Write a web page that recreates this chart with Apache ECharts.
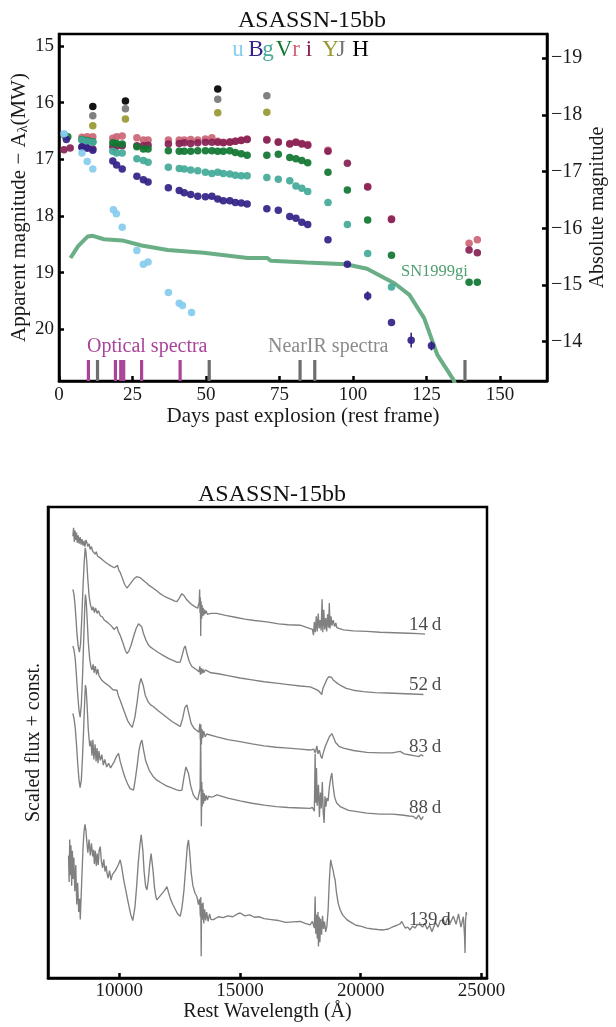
<!DOCTYPE html>
<html>
<head>
<meta charset="utf-8">
<script src="https://cdn.jsdelivr.net/npm/echarts@6/dist/echarts.min.js"></script>
<style>
html,body{margin:0;padding:0;background:#fff;}
#chart{width:616px;height:1027px;}
</style>
</head>
<body>
<div id="chart"></div>
<script>
// ---------------- Light curve data (days past explosion, apparent mag) ----------------
const uDays = [1.7, 7.8, 9.6, 11.5, 18.5, 19.5, 21.5, 26.5, 28.7, 30.3, 37.2, 40.9, 42.0, 45.1];
const uMags = [16.55, 16.89, 17.04, 17.17, 17.89, 17.96, 18.20, 18.61, 18.85, 18.81, 19.35, 19.54, 19.58, 19.70];

const BDays = [2.5, 7.8, 9.6, 11.5, 18.3, 19.6, 21.5, 26.5, 28.7, 30.3, 37.2, 40.9, 42.6, 44.8, 47.2, 49.8, 52, 54, 55.9, 58.1, 60, 62, 64, 70.7, 74.6, 78.5, 80.6, 82.6, 84.6, 91.5, 98.1, 105, 113.1, 119.8, 126.7];
const BMags = [16.65, 16.78, 16.80, 16.84, 17.03, 17.10, 17.17, 17.30, 17.36, 17.40, 17.50, 17.55, 17.59, 17.62, 17.65, 17.66, 17.65, 17.70, 17.73, 17.73, 17.76, 17.77, 17.79, 17.87, 17.90, 18.01, 18.04, 18.11, 18.15, 18.42, 18.85, 19.41, 19.88, 20.19, 20.29];

const gDays = [2, 7.8, 9.6, 11.5, 18.3, 19.6, 21.5, 26.5, 28.7, 30.3, 37.2, 40.9, 42.6, 44.8, 47.2, 49.8, 52, 54, 55.9, 58.1, 60, 62, 64, 70.7, 74.6, 78.5, 80.6, 82.6, 84.6, 91.5, 98.1, 105, 113.1];
const gMags = [16.58, 16.66, 16.68, 16.70, 16.86, 16.89, 16.89, 16.99, 17.02, 17.05, 17.14, 17.16, 17.17, 17.19, 17.20, 17.23, 17.25, 17.23, 17.25, 17.26, 17.28, 17.29, 17.29, 17.32, 17.35, 17.38, 17.47, 17.51, 17.57, 17.76, 18.15, 18.66, 19.25];

const VDays = [3, 7.8, 9.6, 11.5, 18.3, 19.6, 21.5, 26.5, 28.7, 30.3, 37.2, 40.9, 42.6, 44.8, 47.2, 49.8, 52, 54, 55.9, 58.1, 60, 62, 64, 70.7, 74.6, 78.5, 80.6, 82.6, 84.6, 91.5, 98.1, 105, 113.1, 139.5, 142.3];
const VMags = [16.60, 16.65, 16.67, 16.69, 16.71, 16.72, 16.73, 16.78, 16.82, 16.82, 16.85, 16.86, 16.86, 16.86, 16.85, 16.85, 16.85, 16.86, 16.86, 16.85, 16.88, 16.90, 16.93, 16.93, 16.91, 16.97, 16.99, 17.02, 17.06, 17.23, 17.54, 18.07, 18.69, 19.17, 19.17];

const rDays = [2, 7.8, 9.6, 11.5, 18.3, 19.6, 21.5, 26.5, 28.7, 30.3, 37.2, 40.9, 42.6, 44.8, 47.2, 49.8, 52, 54, 55.9, 58.1, 60, 62, 64, 70.7, 74.6, 78.5, 80.6, 82.6, 84.6, 91.5, 105, 113.1, 139.5, 142.3];
const rMags = [16.58, 16.61, 16.60, 16.60, 16.63, 16.60, 16.59, 16.62, 16.66, 16.66, 16.66, 16.66, 16.66, 16.65, 16.66, 16.64, 16.62, 16.68, 16.70, 16.69, 16.68, 16.66, 16.64, 16.65, 16.69, 16.72, 16.70, 16.72, 16.74, 16.84, 17.48, 18.05, 18.48, 18.42];

const iDays = [1.7, 3.8, 7.8, 9.6, 11.5, 18.3, 19.6, 21.5, 26.5, 28.7, 30.3, 37.2, 40.9, 42.6, 44.8, 47.2, 49.8, 52, 54, 55.9, 58.1, 60, 62, 64, 70.7, 74.6, 78.5, 80.6, 82.6, 84.6, 91.5, 98.1, 105, 113.1, 139.5, 142.3];
const iMags = [16.83, 16.80, 16.79, 16.80, 16.82, 16.78, 16.77, 16.76, 16.76, 16.76, 16.75, 16.73, 16.72, 16.71, 16.72, 16.71, 16.70, 16.70, 16.70, 16.71, 16.70, 16.68, 16.67, 16.65, 16.66, 16.70, 16.73, 16.70, 16.73, 16.75, 16.86, 17.07, 17.49, 18.06, 18.60, 18.65];

const YDays = [11.5, 22.6, 54, 70.7];
const YMags = [16.41, 16.29, 16.18, 16.17];
const JDays = [11.5, 22.6, 54, 70.7];
const JMags = [16.23, 16.11, 15.94, 15.88];
const HDays = [11.5, 22.6, 54];
const HMags = [16.07, 15.97, 15.76];

// error bars (day, mag, half-size)
const uErrDays = [45.1];
const uErrMags = [19.70];
const uErrSize = [0.06];
const BErrDays = [105, 119.8, 126.7];
const BErrMags = [19.41, 20.19, 20.29];
const BErrSize = [0.08, 0.13, 0.08];

// SN1999gi comparison curve
const sn99Days = [3.9, 6.5, 9.8, 11.5, 15.3, 21.5, 28.1, 37, 49.2, 64.2, 70.9, 72, 84.2, 97.6, 104.8, 114.2, 119.2, 124.2, 128.7, 134.2, 138];
const sn99Mags = [18.74, 18.53, 18.36, 18.35, 18.41, 18.43, 18.52, 18.60, 18.65, 18.74, 18.74, 18.79, 18.82, 18.85, 18.93, 19.19, 19.39, 19.80, 20.45, 20.89, 21.40];

// epochs of spectra
const opticalSpecDays = [10.0, 19.2, 21.0, 22.0, 28.1, 41.2];
const nirSpecDays = [13.1, 51.1, 82.0, 87.0, 138.1];

// axis ticks
const dayTicks = [0, 25, 50, 75, 100, 125, 150];
const appMagTicks = [15, 16, 17, 18, 19, 20];
const absMagTicks = [-19, -18, -17, -16, -15, -14];
const waveTicks = [10000, 15000, 20000, 25000];
const distMod = 34.217;

// ---------------- NIR spectra: [rest wavelength (Å), scaled flux + const.] ----------------
const spec14d = [[8080,93.8],[8110,95.6],[8140,92.6],[8170,95.0],[8200,93.0],[8230,94.6],[8260,92.4],[8300,94.0],[8340,92.2],[8380,93.6],[8420,92.0],[8460,93.2],[8500,91.8],[8540,92.8],[8580,91.6],[8620,93.0],[8663,92.4],[8700,91.6],[8750,92.2],[8800,91.0],[8850,91.6],[8900,90.6],[8950,91.0],[9000,90.0],[9050,90.5],[9100,89.6],[9150,90.0],[9214,89.2],[9280,89.5],[9350,88.6],[9420,88.9],[9500,88.0],[9580,88.3],[9650,87.5],[9720,87.8],[9800,87.1],[9870,87.5],[9930,87.6],[9980,86.6],[10050,86.0],[10130,84.9],[10220,83.6],[10319,82.8],[10400,83.3],[10500,84.0],[10620,84.8],[10720,85.2],[10800,85.6],[10870,85.0],[10950,84.6],[11050,84.2],[11146,83.8],[11250,83.3],[11400,82.8],[11550,82.2],[11697,81.6],[11850,81.1],[12000,80.7],[12150,80.4],[12300,80.0],[12388,79.9],[12480,80.6],[12595,81.6],[12680,81.2],[12800,80.3],[12950,79.5],[13050,79.1],[13146,78.8],[13250,78.5],[13310,79.8],[13330,82.5],[13345,77.5],[13360,80.8],[13375,72.6],[13390,80.0],[13410,76.2],[13430,79.2],[13450,76.8],[13475,78.6],[13500,77.0],[13530,78.2],[13560,77.3],[13600,78.0],[13650,77.2],[13700,77.6],[13800,77.4],[14044,77.4],[14400,77.0],[14800,76.6],[15200,76.2],[15600,75.9],[16113,75.6],[16600,75.2],[17000,75.0],[17490,74.9],[17906,74.2],[18000,74.0],[18043,72.8],[18080,75.6],[18120,73.4],[18160,76.8],[18200,73.6],[18240,77.4],[18280,74.2],[18320,76.0],[18360,73.8],[18400,80.4],[18430,73.4],[18470,78.2],[18510,74.0],[18550,76.4],[18590,73.6],[18630,77.2],[18670,74.4],[18700,79.6],[18730,74.2],[18770,76.8],[18810,74.8],[18860,76.0],[18920,74.6],[18970,75.4],[19010,74.4],[19284,73.9],[19700,73.7],[20250,73.6],[20800,73.4],[21400,73.3],[22000,73.2],[22400,73.1],[22665,73.0]];

const spec52d = [[8080,82.5],[8120,81.6],[8160,79.8],[8200,77.0],[8250,73.0],[8300,70.4],[8350,69.2],[8400,71.0],[8450,76.5],[8500,83.0],[8550,88.4],[8590,91.3],[8620,90.6],[8660,88.0],[8700,84.6],[8750,81.2],[8800,79.4],[8870,78.1],[8920,78.8],[8970,77.6],[9020,78.6],[9080,77.4],[9140,78.0],[9214,76.9],[9300,76.7],[9380,76.0],[9460,75.9],[9540,75.4],[9620,75.2],[9700,74.6],[9780,74.0],[9850,74.4],[9905,74.6],[9960,73.6],[10050,72.6],[10150,71.2],[10250,69.6],[10319,68.9],[10400,69.4],[10500,70.8],[10600,72.6],[10700,74.2],[10800,75.2],[10869,75.6],[10930,74.6],[11000,73.2],[11100,71.8],[11200,70.8],[11283,70.3],[11450,69.7],[11650,69.0],[11850,68.4],[12050,67.8],[12250,67.4],[12400,67.0],[12525,67.1],[12600,68.4],[12680,70.0],[12732,70.5],[12800,69.0],[12900,67.2],[13000,66.2],[13100,65.8],[13216,65.4],[13300,65.0],[13340,66.2],[13360,64.4],[13390,65.8],[13420,64.6],[13460,65.6],[13500,64.8],[13560,65.4],[13630,65.0],[13800,64.8],[14100,64.6],[14500,64.2],[15000,63.7],[15500,63.3],[16000,62.9],[16500,62.6],[17000,62.3],[17500,62.0],[17906,61.8],[18100,61.4],[18250,61.0],[18330,60.8],[18390,60.2],[18430,61.4],[18470,61.0],[18530,62.6],[18600,63.4],[18680,64.0],[18733,64.3],[18800,63.8],[18870,63.2],[18950,62.8],[19050,62.5],[19147,62.2],[19400,61.5],[19698,61.1],[20100,60.8],[20600,60.6],[21100,60.5],[21600,60.4],[22100,60.3],[22600,60.2]];

const spec83d = [[8080,70.5],[8130,69.6],[8180,67.6],[8230,64.0],[8280,60.2],[8330,57.0],[8380,55.4],[8430,58.0],[8480,64.0],[8530,72.0],[8570,78.5],[8600,81.4],[8630,80.2],[8670,76.4],[8720,71.2],[8780,67.6],[8830,66.0],[8870,65.4],[8920,66.6],[8960,64.8],[9010,66.2],[9060,64.4],[9110,65.6],[9160,64.2],[9214,64.0],[9280,63.2],[9350,63.6],[9420,62.6],[9500,62.8],[9580,62.0],[9660,62.2],[9740,61.2],[9820,60.8],[9905,61.1],[9960,60.0],[10050,58.8],[10150,57.4],[10250,56.0],[10350,54.6],[10450,53.8],[10540,53.2],[10592,53.4],[10650,55.4],[10740,58.6],[10830,62.2],[10900,63.6],[10940,64.0],[10990,62.2],[11080,60.0],[11200,58.6],[11300,58.0],[11420,57.6],[11600,56.8],[11800,56.0],[12000,55.2],[12200,54.4],[12400,53.8],[12525,53.4],[12620,55.0],[12720,57.4],[12802,58.0],[12880,56.2],[12980,54.0],[13100,53.0],[13200,52.6],[13300,52.2],[13340,54.0],[13360,50.6],[13380,53.8],[13400,49.6],[13430,52.8],[13460,51.0],[13500,52.4],[13560,51.2],[13620,51.8],[13700,51.4],[14044,51.2],[14500,50.6],[15000,50.2],[15500,49.7],[16000,49.3],[16500,49.0],[17000,48.8],[17500,48.6],[17906,48.4],[18050,48.6],[18120,47.8],[18183,49.3],[18230,47.6],[18290,48.4],[18340,47.2],[18390,46.6],[18450,47.8],[18520,49.0],[18600,50.0],[18700,51.2],[18804,51.9],[18880,51.0],[18960,50.0],[19100,49.2],[19284,48.8],[19700,48.3],[20252,47.9],[20800,47.8],[21300,47.8],[21631,48.1],[21800,47.6],[22000,47.4],[22200,47.2],[22400,47.0],[22500,47.4],[22595,47.1]];

const spec88d = [[8080,56.2],[8130,55.0],[8180,53.0],[8230,49.6],[8280,45.6],[8330,42.2],[8380,40.4],[8430,42.0],[8480,47.0],[8530,53.4],[8570,59.0],[8600,62.2],[8630,61.4],[8670,57.8],[8720,52.6],[8780,49.2],[8830,50.4],[8870,47.2],[8910,50.6],[8950,46.4],[9000,49.6],[9040,46.0],[9080,48.8],[9120,45.6],[9160,48.2],[9214,46.2],[9280,47.4],[9340,45.2],[9400,46.4],[9480,44.8],[9560,45.6],[9640,44.6],[9720,45.0],[9800,46.0],[9880,47.0],[9971,47.7],[10040,46.0],[10150,44.0],[10250,42.4],[10350,41.2],[10450,40.2],[10530,39.8],[10592,39.9],[10660,42.0],[10740,45.0],[10820,48.4],[10890,50.0],[10940,50.5],[11000,48.6],[11100,46.0],[11250,44.0],[11400,42.8],[11560,42.0],[11750,41.4],[11950,40.8],[12150,40.4],[12350,40.0],[12500,39.8],[12595,39.9],[12680,42.6],[12760,44.8],[12802,45.2],[12870,43.4],[12960,40.8],[13060,39.0],[13160,38.2],[13250,37.8],[13320,37.4],[13350,40.2],[13370,53.0],[13385,44.0],[13400,32.2],[13420,41.6],[13440,36.4],[13460,40.0],[13490,37.0],[13520,39.2],[13560,37.6],[13600,38.8],[13650,37.8],[13700,38.6],[13800,38.4],[13903,38.5],[14044,38.9],[14500,38.2],[15000,37.6],[15500,37.1],[16000,36.7],[16500,36.4],[17000,36.2],[17500,36.1],[17906,36.0],[18000,36.2],[18080,35.4],[18113,47.6],[18140,37.2],[18170,44.6],[18200,36.6],[18250,41.0],[18290,34.2],[18330,39.4],[18370,36.0],[18410,41.6],[18450,35.0],[18485,32.9],[18520,38.6],[18560,36.4],[18600,38.2],[18650,37.6],[18700,40.4],[18760,42.6],[18804,43.5],[18850,41.0],[18920,38.4],[19000,37.2],[19147,36.4],[19500,35.6],[20252,35.0],[20800,34.8],[21300,34.8],[21700,34.6],[22000,34.4],[22181,34.3],[22300,33.8],[22400,34.6],[22500,33.6],[22595,34.3]];

const spec139d = [[7900,26.0],[7925,20.4],[7950,29.4],[7975,21.8],[8000,28.2],[8030,19.6],[8060,27.0],[8090,21.0],[8120,25.6],[8160,18.4],[8200,24.0],[8240,15.6],[8280,20.2],[8320,14.0],[8360,16.8],[8386,12.4],[8420,17.0],[8460,22.4],[8500,27.6],[8540,31.0],[8580,32.6],[8620,31.4],[8660,28.8],[8700,26.6],[8750,29.4],[8800,26.0],[8850,28.6],[8900,25.8],[8936,27.2],[8970,24.2],[9010,27.0],[9050,23.8],[9090,26.4],[9130,24.0],[9170,27.2],[9214,27.9],[9260,24.8],[9310,23.4],[9360,25.2],[9410,22.6],[9460,23.8],[9491,22.3],[9540,21.2],[9600,22.8],[9660,20.8],[9720,22.0],[9780,21.6],[9840,22.8],[9900,23.4],[9960,24.0],[10041,25.1],[10100,23.6],[10180,21.0],[10280,18.4],[10380,15.8],[10480,13.4],[10560,12.2],[10592,12.4],[10650,15.0],[10720,19.4],[10790,24.6],[10860,28.4],[10910,30.4],[10940,30.0],[10980,27.0],[11030,22.6],[11090,19.6],[11146,18.7],[11200,20.6],[11260,24.0],[11320,26.4],[11353,26.5],[11400,22.8],[11460,19.2],[11520,17.2],[11560,16.6],[11640,17.0],[11720,17.6],[11800,18.0],[11880,18.6],[11974,19.4],[12040,18.2],[12120,16.8],[12220,15.6],[12320,14.6],[12420,13.6],[12525,13.1],[12600,15.0],[12680,18.6],[12760,24.0],[12820,28.0],[12868,29.3],[12920,26.6],[12980,22.4],[13050,19.6],[13140,18.0],[13216,17.3],[13280,15.6],[13330,16.8],[13360,13.0],[13380,17.2],[13394,4.6],[13410,15.8],[13440,12.4],[13470,16.0],[13500,11.6],[13540,14.6],[13580,12.2],[13620,14.0],[13680,12.0],[13740,13.6],[13800,12.4],[13903,12.4],[14100,13.0],[14300,12.8],[14500,13.2],[14700,13.0],[14900,13.6],[15008,13.8],[15200,13.2],[15400,13.4],[15600,12.9],[15800,13.0],[16000,12.6],[16300,12.4],[16600,12.2],[16900,11.8],[17200,11.9],[17492,12.0],[17700,11.6],[17906,11.3],[18000,12.0],[18043,12.4],[18080,10.6],[18113,17.3],[18140,9.4],[18170,13.4],[18200,8.4],[18230,14.0],[18250,6.7],[18280,13.0],[18310,7.6],[18340,12.6],[18380,9.2],[18420,13.2],[18460,10.4],[18500,12.0],[18550,9.8],[18597,10.9],[18650,14.4],[18700,20.6],[18740,24.0],[18760,25.1],[18790,24.2],[18820,23.6],[18860,22.8],[18900,21.6],[18940,20.8],[19000,18.0],[19070,15.8],[19147,14.5],[19250,13.4],[19424,12.4],[19600,11.8],[19800,11.2],[20000,11.0],[20252,10.6],[20500,10.4],[20700,10.3],[20939,10.2],[21150,10.4],[21350,10.9],[21500,11.2],[21631,11.5],[21701,12.0],[21780,11.2],[21850,10.6],[21950,10.8],[22045,10.2],[22150,11.0],[22250,10.6],[22350,11.4],[22459,11.3],[22560,10.8],[22650,11.6],[22750,10.4],[22850,11.2],[22950,9.8],[23009,10.6],[23100,11.8],[23200,10.8],[23300,12.2],[23423,12.4],[23500,11.2],[23600,12.8],[23700,11.6],[23837,13.1],[23950,11.4],[24050,13.6],[24150,10.8],[24250,13.0],[24300,9.0],[24321,5.3],[24340,12.0],[24370,14.0],[24391,13.4]];

const specLabels = ['14\u2009d', '52\u2009d', '83\u2009d', '88\u2009d', '139\u2009d'];
const specLabelWave = [22000, 22000, 22000, 22000, 22000];
const specLabelFlux = [74.9, 62.2, 49.1, 36.0, 12.4];

// ---------------- styling ----------------
const FONT = '"Liberation Serif", "DejaVu Serif", serif';
const COL = {u:'#88CCEE', B:'#332288', g:'#44AA99', V:'#117733', r:'#CC6677', i:'#882255', Y:'#999933', J:'#777777', H:'#000000'};
const SN_COL = '#6aae86';
const OPT_COL = '#AA4499';
const NIR_COL = '#6e6e6e';
const SPEC_COL = '#808080';
const YMIN = 14.79, YMAX = 20.91, BAR_TOP = 20.54;

const zip = (a, b) => a.map((v, k) => [v, b[k]]);

function bandSeries(name, days, mags) {
  return {
    type: 'scatter', name, xAxisIndex: 0, yAxisIndex: 0,
    data: zip(days, mags), symbolSize: 7.5,
    itemStyle: {color: COL[name], opacity: 0.93}, z: 4
  };
}
function barSeries(days, color) {
  return {
    type: 'custom', xAxisIndex: 0, yAxisIndex: 0, z: 2,
    data: days.map(d => [d, BAR_TOP]),
    renderItem: (params, api) => {
      const p0 = api.coord([api.value(0), BAR_TOP]);
      const p1 = api.coord([api.value(0), YMAX]);
      return {type: 'line', shape: {x1: p0[0], y1: p0[1], x2: p1[0], y2: p1[1]},
              style: {stroke: color, lineWidth: 3.2}};
    }
  };
}
function errSeries(days, mags, errs, color) {
  return {
    type: 'custom', xAxisIndex: 0, yAxisIndex: 0, z: 3,
    data: days.map((d, k) => [d, mags[k], errs[k]]),
    renderItem: (params, api) => {
      const d = api.value(0), m = api.value(1), e = api.value(2);
      const p0 = api.coord([d, m - e]);
      const p1 = api.coord([d, m + e]);
      return {type: 'line', shape: {x1: p0[0], y1: p0[1], x2: p1[0], y2: p1[1]},
              style: {stroke: color, lineWidth: 1.6}};
    }
  };
}
function specSeries(data) {
  return {
    type: 'line', xAxisIndex: 1, yAxisIndex: 2, data, showSymbol: false,
    symbol: 'none', lineStyle: {color: SPEC_COL, width: 1.35}, z: 2, animation: false
  };
}

const axisLineStyle = {color: '#000', width: 2.5};
const tickStyle = {color: '#000', width: 2.5};
const labelStyle = {color: '#1a1a1a', fontFamily: FONT, fontSize: 19};
const nameStyle = {color: '#1a1a1a', fontFamily: FONT, fontSize: 21};

const legendLetters = ['u','B','g','V','r','i','Y','J','H'];
const legendCenters = [238, 256, 268, 284, 296, 309, 330.5, 341, 360.5];

const option = {
  animation: false,
  backgroundColor: '#ffffff',
  title: [
    {text: 'ASASSN-15bb', left: 307, textAlign: 'center', top: 4,
     textStyle: {fontFamily: FONT, fontSize: 24, fontWeight: 'normal', color: '#111'}},
    {text: 'ASASSN-15bb', left: 267, textAlign: 'center', top: 478,
     textStyle: {fontFamily: FONT, fontSize: 24, fontWeight: 'normal', color: '#111'}}
  ],
  grid: [
    {left: 58, top: 34, width: 498, height: 347, show: true, borderColor: '#000', borderWidth: 2.5, backgroundColor: 'transparent'},
    {left: 48, top: 507, width: 439, height: 471, show: true, borderColor: '#000', borderWidth: 2.5, backgroundColor: 'transparent'}
  ],
  xAxis: [
    {gridIndex: 0, type: 'value', min: 0, max: 166,
     axisLine: {onZero: false, lineStyle: axisLineStyle},
     axisTick: {inside: true, length: 5, lineStyle: tickStyle, customValues: dayTicks},
     axisLabel: Object.assign({customValues: dayTicks, margin: 5, formatter: v => String(v)}, labelStyle),
     splitLine: {show: false},
     name: 'Days past explosion (rest frame)', nameLocation: 'middle', nameGap: 25,
     nameMoveOverlap: false, nameTextStyle: nameStyle},
    {gridIndex: 1, type: 'value', min: 7050, max: 25230,
     axisLine: {onZero: false, lineStyle: axisLineStyle},
     axisTick: {inside: true, length: 5, lineStyle: tickStyle, customValues: waveTicks},
     axisLabel: Object.assign({customValues: waveTicks, margin: 4, formatter: v => String(Math.round(v))}, labelStyle),
     splitLine: {show: false},
     name: 'Rest Wavelength (Å)', nameLocation: 'middle', nameGap: 24,
     nameMoveOverlap: false, nameTextStyle: Object.assign({}, nameStyle, {fontSize: 20})}
  ],
  yAxis: [
    {gridIndex: 0, type: 'value', inverse: true, min: YMIN, max: YMAX,
     axisLine: {onZero: false, lineStyle: axisLineStyle},
     axisTick: {inside: true, length: 5, lineStyle: tickStyle, customValues: appMagTicks},
     axisLabel: Object.assign({customValues: appMagTicks, margin: 5, formatter: v => String(Math.round(v))}, labelStyle),
     splitLine: {show: false},
     name: 'Apparent magnitude − A{sub|λ}(MW)', nameLocation: 'middle', nameGap: 29, nameRotate: 90,
     nameMoveOverlap: false,
     nameTextStyle: Object.assign({}, nameStyle, {lineHeight: 22,
       rich: {sub: {fontFamily: FONT, fontSize: 14, color: '#1a1a1a', verticalAlign: 'bottom', lineHeight: 12}}})},
    {gridIndex: 0, type: 'value', position: 'right', inverse: true,
     min: YMIN - distMod, max: YMAX - distMod,
     axisLine: {onZero: false, lineStyle: axisLineStyle},
     axisTick: {inside: true, length: 5, lineStyle: tickStyle, customValues: absMagTicks},
     axisLabel: Object.assign({customValues: absMagTicks, margin: 4,
       formatter: v => '\u2212' + Math.abs(Math.round(v))}, labelStyle, {fontSize: 20}),
     splitLine: {show: false},
     name: 'Absolute magnitude', nameLocation: 'middle', nameGap: 41, nameRotate: 90,
     nameMoveOverlap: false, nameTextStyle: Object.assign({}, nameStyle, {fontSize: 20})},
    {gridIndex: 1, type: 'value', min: 0, max: 100,
     axisLine: {onZero: false, lineStyle: axisLineStyle},
     axisTick: {show: false}, axisLabel: {show: false}, splitLine: {show: false},
     name: 'Scaled flux + const.', nameLocation: 'middle', nameGap: 4, nameRotate: 90,
     nameMoveOverlap: false, nameTextStyle: Object.assign({}, nameStyle, {fontSize: 20})}
  ],
  graphic: [
    ...legendLetters.map((L, k) => ({
      type: 'text', x: legendCenters[k], y: 50, z: 10,
      style: {text: L, fill: COL[L], font: '23px ' + FONT,
              align: 'center', verticalAlign: 'middle', textAlign: 'center', textVerticalAlign: 'middle'}
    })),
    {type: 'text', x: 87, y: 347, z: 10,
     style: {text: 'Optical spectra', fill: OPT_COL, font: '20px ' + FONT,
             align: 'left', verticalAlign: 'middle', textAlign: 'left', textVerticalAlign: 'middle'}},
    {type: 'text', x: 268, y: 347, z: 10,
     style: {text: 'NearIR spectra', fill: '#8a8a8a', font: '20px ' + FONT,
             align: 'left', verticalAlign: 'middle', textAlign: 'left', textVerticalAlign: 'middle'}},
    {type: 'text', x: 401, y: 272, z: 10,
     style: {text: 'SN1999gi', fill: '#4f9e6e', font: '16.5px ' + FONT,
             align: 'left', verticalAlign: 'middle', textAlign: 'left', textVerticalAlign: 'middle'}}
  ],
  series: [
    {type: 'line', xAxisIndex: 0, yAxisIndex: 0, data: zip(sn99Days, sn99Mags),
     showSymbol: false, symbol: 'none', lineStyle: {color: SN_COL, width: 4}, z: 1, clip: true},
    barSeries(opticalSpecDays, OPT_COL),
    barSeries(nirSpecDays, NIR_COL),
    errSeries(uErrDays, uErrMags, uErrSize, COL.u),
    errSeries(BErrDays, BErrMags, BErrSize, COL.B),
    bandSeries('r', rDays, rMags),
    bandSeries('i', iDays, iMags),
    bandSeries('V', VDays, VMags),
    bandSeries('g', gDays, gMags),
    bandSeries('B', BDays, BMags),
    bandSeries('u', uDays, uMags),
    bandSeries('Y', YDays, YMags),
    bandSeries('J', JDays, JMags),
    bandSeries('H', HDays, HMags),
    specSeries(spec14d),
    specSeries(spec52d),
    specSeries(spec83d),
    specSeries(spec88d),
    specSeries(spec139d),
    {type: 'scatter', xAxisIndex: 1, yAxisIndex: 2, symbolSize: 0, silent: true, z: 5,
     data: specLabels.map((t, k) => ({value: [specLabelWave[k], specLabelFlux[k]], name: t})),
     label: {show: true, position: 'right', distance: 0, formatter: p => p.name,
             fontFamily: FONT, fontSize: 19, color: '#1a1a1a'}}
  ]
};

const chart = echarts.init(document.getElementById('chart'), null, {renderer: 'canvas'});
chart.setOption(option);
</script>
</body>
</html>
